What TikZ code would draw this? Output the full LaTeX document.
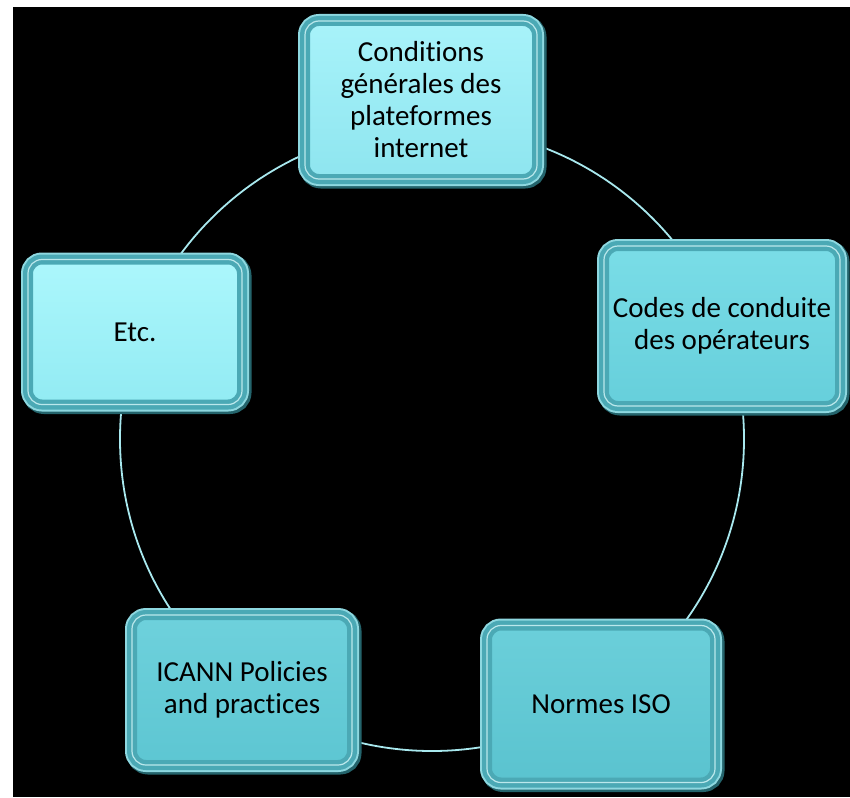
\documentclass[tikz,border=0pt]{standalone}
\usepackage{fontspec}
\setmainfont{Carlito}[RawFeature={-liga;-clig;-dlig}]
\definecolor{ring}{HTML}{A8E8EE}
\definecolor{rimteal}{HTML}{4BA9B5}
\definecolor{rimlight}{HTML}{8ED8E0}
\definecolor{rimshadow}{HTML}{24646C}
\definecolor{cgutop}{HTML}{A8F3FA}
\definecolor{cgubot}{HTML}{8EE5EF}
\definecolor{codestop}{HTML}{7ADDE7}
\definecolor{codesbot}{HTML}{66CFDB}
\definecolor{isotop}{HTML}{6BCFDA}
\definecolor{isobot}{HTML}{5AC3CF}
\definecolor{icanntop}{HTML}{6ED1DC}
\definecolor{icannbot}{HTML}{5DC6D2}
\definecolor{etctop}{HTML}{ACF7FC}
\definecolor{etcbot}{HTML}{92EBF3}
\tikzset{
  box/.style 2 args={rounded corners=14pt, top color=#1, bottom color=#2,
    draw=rimteal, line width=10pt, align=center, text=black,
    font=\fontsize{29}{32}\selectfont,
    preaction={draw=rimshadow, line width=15pt,
      transform canvas={xshift=2pt,yshift=-2pt}},
    preaction={draw=rimlight, line width=14pt},
    postaction={draw=rimlight!60!white, line width=1.2pt}},
}
\begin{document}
\begin{tikzpicture}[x=1pt,y=-1pt]
    \useasboundingbox (0,0) rectangle (850,797);
    \fill [white] (0,0) rectangle (850,797);
    \fill [black] (13,7) rectangle (850,797);
    \coordinate (hub) at (432,439);
    \draw [ring, line width=1.8pt] (hub) circle [radius=312];
        \node [box={cgutop}{cgubot}, minimum width=232, minimum height=158] (cgu) at (421,100)
            {Condit\kern0pt ions\\générales des\\plateformes\\internet};
        \node [box={codestop}{codesbot}, minimum width=236, minimum height=160] (codes) at (722,326)
            {Codes de conduite\\des opérateurs};
        \node [box={isotop}{isobot}, minimum width=228, minimum height=157] (iso) at (601,704)
            {Normes ISO};
        \node [box={icanntop}{icannbot}, minimum width=220, minimum height=150] (icann) at (242,690)
            {ICANN Policies\\and practices};
        \node [box={etctop}{etcbot}, minimum width=214, minimum height=145] (etc) at (135,332)
            {Etc.};
  \end{tikzpicture}
\end{document}
